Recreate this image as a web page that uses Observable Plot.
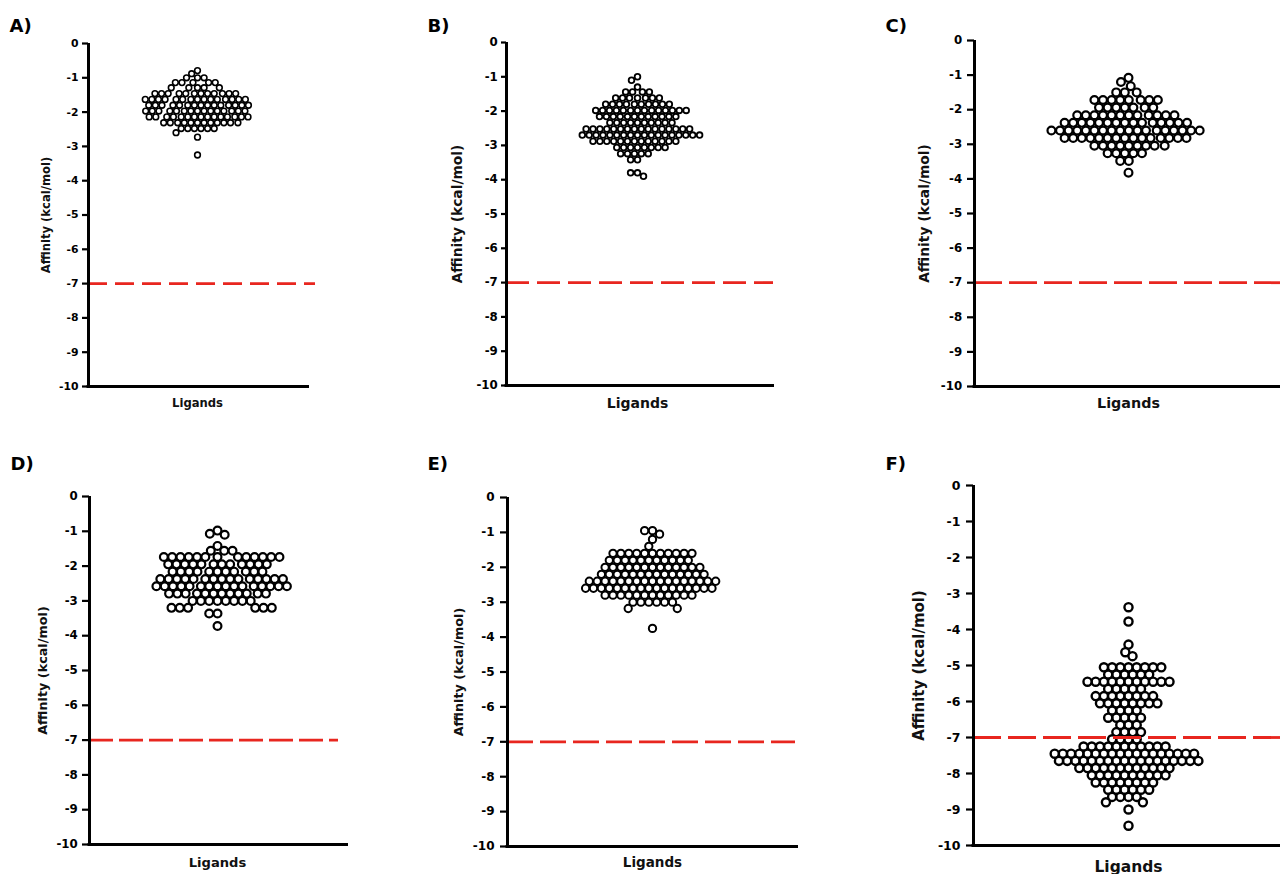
<!DOCTYPE html>
<html>
<head>
<meta charset="utf-8">
<script src="https://cdn.jsdelivr.net/npm/d3@7"></script>
<script src="https://cdn.jsdelivr.net/npm/@observablehq/plot@0.6"></script>
<style>
  html, body { margin: 0; padding: 0; background: #fff; }
  #chart { position: relative; width: 1280px; height: 874px; overflow: hidden; background: #fff; }
</style>
</head>
<body>
<div id="chart"></div>
<script>
// ---- data (docking affinity, kcal/mol, one value per ligand) ----
const yTicks = [0, -1, -2, -3, -4, -5, -6, -7, -8, -9, -10];
const threshold = -7;
const panelTags = ["A)", "B)", "C)", "D)", "E)", "F)"];
const yTitle = "Affinity (kcal/mol)";
const xTitle = "Ligands";

const affinityA = [
  -0.79,
  -0.88,
  -1.0, -1.0, -1.0,
  -1.14, -1.14, -1.14, -1.14, -1.14,
  -1.29, -1.29, -1.29, -1.29, -1.29,
  -1.46, -1.46, -1.46, -1.46, -1.46, -1.46, -1.46, -1.46, -1.46, -1.46, -1.46, -1.46,
  -1.63, -1.63, -1.63, -1.63, -1.63, -1.63, -1.63, -1.63, -1.63, -1.63, -1.63, -1.63, -1.63, -1.63, -1.63,
  -1.8, -1.8, -1.8, -1.8, -1.8, -1.8, -1.8, -1.8, -1.8, -1.8, -1.8, -1.8, -1.8, -1.8, -1.8,
  -1.97, -1.97, -1.97, -1.97, -1.97, -1.97, -1.97, -1.97, -1.97, -1.97, -1.97, -1.97, -1.97, -1.97, -1.97,
  -2.14, -2.14, -2.14, -2.14, -2.14, -2.14, -2.14, -2.14, -2.14, -2.14, -2.14, -2.14, -2.14, -2.14, -2.14,
  -2.31, -2.31, -2.31, -2.31, -2.31, -2.31, -2.31, -2.31, -2.31, -2.31, -2.31, -2.31,
  -2.48, -2.48, -2.48, -2.48, -2.48, -2.48,
  -2.6,
  -2.73,
  -3.25
];

const affinityB = [
  -1.0, -1.1, -1.3,
  -1.44, -1.44, -1.44, -1.44,
  -1.62, -1.62, -1.62, -1.62, -1.62, -1.62, -1.62,
  -1.8, -1.8, -1.8, -1.8, -1.8, -1.8, -1.8, -1.8, -1.8, -1.8,
  -1.98, -1.98, -1.98, -1.98, -1.98, -1.98, -1.98, -1.98, -1.98, -1.98, -1.98, -1.98, -1.98, -1.98,
  -2.16, -2.16, -2.16, -2.16, -2.16, -2.16, -2.16, -2.16, -2.16, -2.16, -2.16, -2.16,
  -2.34, -2.34, -2.34, -2.34, -2.34, -2.34, -2.34, -2.34, -2.34, -2.34,
  -2.52, -2.52, -2.52, -2.52, -2.52, -2.52, -2.52, -2.52, -2.52, -2.52, -2.52, -2.52, -2.52, -2.52, -2.52, -2.52,
  -2.7, -2.7, -2.7, -2.7, -2.7, -2.7, -2.7, -2.7, -2.7, -2.7, -2.7, -2.7, -2.7, -2.7, -2.7, -2.7, -2.7, -2.7,
  -2.88, -2.88, -2.88, -2.88, -2.88, -2.88, -2.88, -2.88, -2.88, -2.88, -2.88, -2.88, -2.88,
  -3.06, -3.06, -3.06, -3.06, -3.06, -3.06, -3.06, -3.06,
  -3.24, -3.24, -3.24, -3.24, -3.24,
  -3.42, -3.42,
  -3.8, -3.8,
  -3.9
];

const affinityC = [
  -1.08, -1.2, -1.32,
  -1.5, -1.5, -1.5,
  -1.72, -1.72, -1.72, -1.72, -1.72, -1.72, -1.72, -1.72,
  -1.94, -1.94, -1.94, -1.94, -1.94, -1.94, -1.94,
  -2.16, -2.16, -2.16, -2.16, -2.16, -2.16, -2.16, -2.16, -2.16, -2.16, -2.16, -2.16,
  -2.38, -2.38, -2.38, -2.38, -2.38, -2.38, -2.38, -2.38, -2.38, -2.38, -2.38, -2.38, -2.38, -2.38, -2.38,
  -2.6, -2.6, -2.6, -2.6, -2.6, -2.6, -2.6, -2.6, -2.6, -2.6, -2.6, -2.6, -2.6, -2.6, -2.6, -2.6, -2.6, -2.6,
  -2.82, -2.82, -2.82, -2.82, -2.82, -2.82, -2.82, -2.82, -2.82, -2.82, -2.82, -2.82, -2.82, -2.82, -2.82,
  -3.04, -3.04, -3.04, -3.04, -3.04, -3.04, -3.04, -3.04, -3.04,
  -3.26, -3.26, -3.26, -3.26, -3.26,
  -3.48, -3.48,
  -3.82
];

const affinityD = [
  -0.98, -1.07, -1.1,
  -1.42,
  -1.56, -1.56, -1.56,
  -1.74, -1.74, -1.74, -1.74, -1.74, -1.74, -1.74, -1.74, -1.74, -1.74, -1.74, -1.74, -1.74,
  -1.95, -1.95, -1.95, -1.95, -1.95, -1.95, -1.95, -1.95, -1.95, -1.95, -1.95, -1.95,
  -2.16, -2.16, -2.16, -2.16, -2.16, -2.16, -2.16, -2.16, -2.16, -2.16, -2.16,
  -2.37, -2.37, -2.37, -2.37, -2.37, -2.37, -2.37, -2.37, -2.37, -2.37, -2.37, -2.37, -2.37, -2.37, -2.37,
  -2.58, -2.58, -2.58, -2.58, -2.58, -2.58, -2.58, -2.58, -2.58, -2.58, -2.58, -2.58, -2.58, -2.58, -2.58, -2.58,
  -2.79, -2.79, -2.79, -2.79, -2.79, -2.79, -2.79, -2.79, -2.79, -2.79, -2.79, -2.79,
  -3.0, -3.0, -3.0, -3.0, -3.0, -3.0, -3.0, -3.0,
  -3.2, -3.2, -3.2, -3.2, -3.2, -3.2,
  -3.36, -3.36,
  -3.72
];

const affinityE = [
  -0.95, -0.95, -1.05, -1.2,
  -1.4,
  -1.6, -1.6, -1.6, -1.6, -1.6, -1.6, -1.6, -1.6, -1.6, -1.6, -1.6,
  -1.8, -1.8, -1.8, -1.8, -1.8, -1.8, -1.8, -1.8, -1.8, -1.8, -1.8,
  -2.0, -2.0, -2.0, -2.0, -2.0, -2.0, -2.0, -2.0, -2.0, -2.0, -2.0, -2.0, -2.0,
  -2.2, -2.2, -2.2, -2.2, -2.2, -2.2, -2.2, -2.2, -2.2, -2.2, -2.2, -2.2, -2.2, -2.2,
  -2.4, -2.4, -2.4, -2.4, -2.4, -2.4, -2.4, -2.4, -2.4, -2.4, -2.4, -2.4, -2.4, -2.4, -2.4, -2.4, -2.4,
  -2.6, -2.6, -2.6, -2.6, -2.6, -2.6, -2.6, -2.6, -2.6, -2.6, -2.6, -2.6, -2.6, -2.6, -2.6, -2.6, -2.6,
  -2.8, -2.8, -2.8, -2.8, -2.8, -2.8, -2.8, -2.8, -2.8, -2.8, -2.8, -2.8,
  -3.0, -3.0, -3.0, -3.0, -3.0, -3.0,
  -3.18, -3.18,
  -3.75
];

const affinityF = [
  -3.38, -3.78, -4.42, -4.63, -4.74,
  -5.05, -5.05, -5.05, -5.05, -5.05, -5.05, -5.05, -5.05,
  -5.25, -5.25, -5.25, -5.25, -5.25, -5.25,
  -5.45, -5.45, -5.45, -5.45, -5.45, -5.45, -5.45, -5.45, -5.45, -5.45, -5.45,
  -5.65, -5.65, -5.65, -5.65, -5.65,
  -5.85, -5.85, -5.85, -5.85, -5.85, -5.85, -5.85, -5.85,
  -6.05, -6.05, -6.05, -6.05, -6.05, -6.05, -6.05, -6.05,
  -6.25, -6.25, -6.25, -6.25,
  -6.45, -6.45, -6.45, -6.45, -6.45,
  -6.65, -6.65, -6.65,
  -6.85, -6.85, -6.85, -6.85,
  -7.05, -7.05, -7.05, -7.05,
  -7.25, -7.25, -7.25, -7.25, -7.25, -7.25, -7.25, -7.25, -7.25, -7.25, -7.25,
  -7.45, -7.45, -7.45, -7.45, -7.45, -7.45, -7.45, -7.45, -7.45, -7.45, -7.45, -7.45, -7.45, -7.45, -7.45, -7.45, -7.45, -7.45,
  -7.65, -7.65, -7.65, -7.65, -7.65, -7.65, -7.65, -7.65, -7.65, -7.65, -7.65, -7.65, -7.65, -7.65, -7.65, -7.65, -7.65, -7.65,
  -7.85, -7.85, -7.85, -7.85, -7.85, -7.85, -7.85, -7.85, -7.85, -7.85, -7.85, -7.85,
  -8.05, -8.05, -8.05, -8.05, -8.05, -8.05, -8.05, -8.05, -8.05, -8.05,
  -8.25, -8.25, -8.25, -8.25, -8.25, -8.25, -8.25, -8.25,
  -8.45, -8.45, -8.45, -8.45, -8.45, -8.45,
  -8.65, -8.65, -8.65, -8.65,
  -8.8, -8.8,
  -9.0,
  -9.45
];

const panelData = [affinityA, affinityB, affinityC, affinityD, affinityE, affinityF];

// ---- layout (pixel geometry of each panel in the figure) ----
const layout = [
  {axisX: 88,  yTop: 43,  yBot: 386, right: 306,  r: 2.85, pad: 0.9, sw: 1.6, tickFs: 10.8, tickSize: 6, tickPad: 4,   ylabFs: 11.6, ylabDx: -42,   ligFs: 11.6, ligDy: 20, tagX: 9,   tagBase: 31,  dash: "19,8", redInset: -9, axisInset: -3},
  {axisX: 506, yTop: 42,  yBot: 385, right: 768,  r: 2.85, pad: 1.2, sw: 1.8, tickFs: 11.8, tickSize: 5, tickPad: 3.7, ylabFs: 13.8, ylabDx: -48.5, ligFs: 14,   ligDy: 22, tagX: 427, tagBase: 31,  dash: "23,8", redInset: -5, axisInset: -6},
  {axisX: 974, yTop: 40,  yBot: 386, right: 1282, r: 3.9,  pad: 0.8, sw: 2.2, tickFs: 11.8, tickSize: 7, tickPad: 5.3, ylabFs: 13.8, ylabDx: -50,   ligFs: 14.3, ligDy: 21, tagX: 885, tagBase: 31,  dash: "28,7", redInset: 0,  axisInset: 0},
  {axisX: 89,  yTop: 496, yBot: 844, right: 345,  r: 3.9,  pad: 0.5, sw: 2.2, tickFs: 11.8, tickSize: 7, tickPad: 4.7, ylabFs: 12.8, ylabDx: -46.5, ligFs: 13.1, ligDy: 22, tagX: 10,  tagBase: 469, dash: "24,6", redInset: 7,  axisInset: -3},
  {axisX: 507, yTop: 497, yBot: 846, right: 797,  r: 3.65, pad: 0.6, sw: 2.0, tickFs: 12,   tickSize: 7, tickPad: 6,   ylabFs: 12.8, ylabDx: -48.5, ligFs: 13.5, ligDy: 20, tagX: 427, tagBase: 469, dash: "26,7", redInset: 2,  axisInset: -1},
  {axisX: 973, yTop: 485, yBot: 845, right: 1283, r: 4.05, pad: 0.1, sw: 2.4, tickFs: 12.5, tickSize: 7, tickPad: 6,   ylabFs: 15,   ylabDx: -54.5, ligFs: 15.5, ligDy: 26, tagX: 885, tagBase: 469, dash: "28,7", redInset: 0,  axisInset: 0}
];

const RED = "#e8261f";
const container = document.getElementById("chart");

layout.forEach((c, i) => {
  const mL = 95, mR = 12, mT = 40, mB = 40;
  const W = c.right - c.axisX;
  const H = c.yBot - c.yTop;
  const svg = Plot.plot({
    width: mL + W + mR,
    height: mT + H + mB,
    marginLeft: mL, marginRight: mR, marginTop: mT, marginBottom: mB,
    x: {domain: [0, 1], axis: null},
    y: {domain: [-10, 0], axis: null},
    style: {fontFamily: "'DejaVu Sans', sans-serif", fontWeight: "bold", background: "none", overflow: "visible", maxWidth: "none", color: "#000"},
    marks: [
      Plot.dot(panelData[i], Plot.dodgeX({anchor: "middle", padding: c.pad}, {
        y: d => d, r: c.r, fill: "white", stroke: "#000", strokeWidth: c.sw
      })),
      Plot.ruleY([threshold], {stroke: RED, strokeWidth: 2.8, strokeDasharray: c.dash, insetRight: c.redInset}),
      Plot.ruleX([0], {stroke: "#000", strokeWidth: 3}),
      Plot.ruleY([-10], {stroke: "#000", strokeWidth: 3, insetLeft: -1.5, insetRight: c.axisInset}),
      Plot.axisY({ticks: yTicks, tickFormat: d => String(d), tickSize: c.tickSize, tickPadding: c.tickPad,
                  fontSize: c.tickFs, strokeWidth: 2.2, label: null}),
      Plot.text([yTitle], {text: d => d, frameAnchor: "left", rotate: -90, dx: c.ylabDx, fontSize: c.ylabFs,
                  textAnchor: "middle", lineAnchor: "middle", fill: "#111"}),
      Plot.text([xTitle], {text: d => d, frameAnchor: "bottom", dy: c.ligDy, fontSize: c.ligFs,
                  textAnchor: "middle", lineAnchor: "bottom", fill: "#111"}),
      Plot.text([panelTags[i]], {text: d => d, frameAnchor: "top-left", dx: c.tagX - c.axisX, dy: c.tagBase - c.yTop,
                  textAnchor: "start", lineAnchor: "bottom", fontSize: 18, fill: "#000"})
    ]
  });
  svg.style.position = "absolute";
  svg.style.left = (c.axisX - mL) + "px";
  svg.style.top = (c.yTop - mT) + "px";
  container.appendChild(svg);
});
</script>
</body>
</html>
